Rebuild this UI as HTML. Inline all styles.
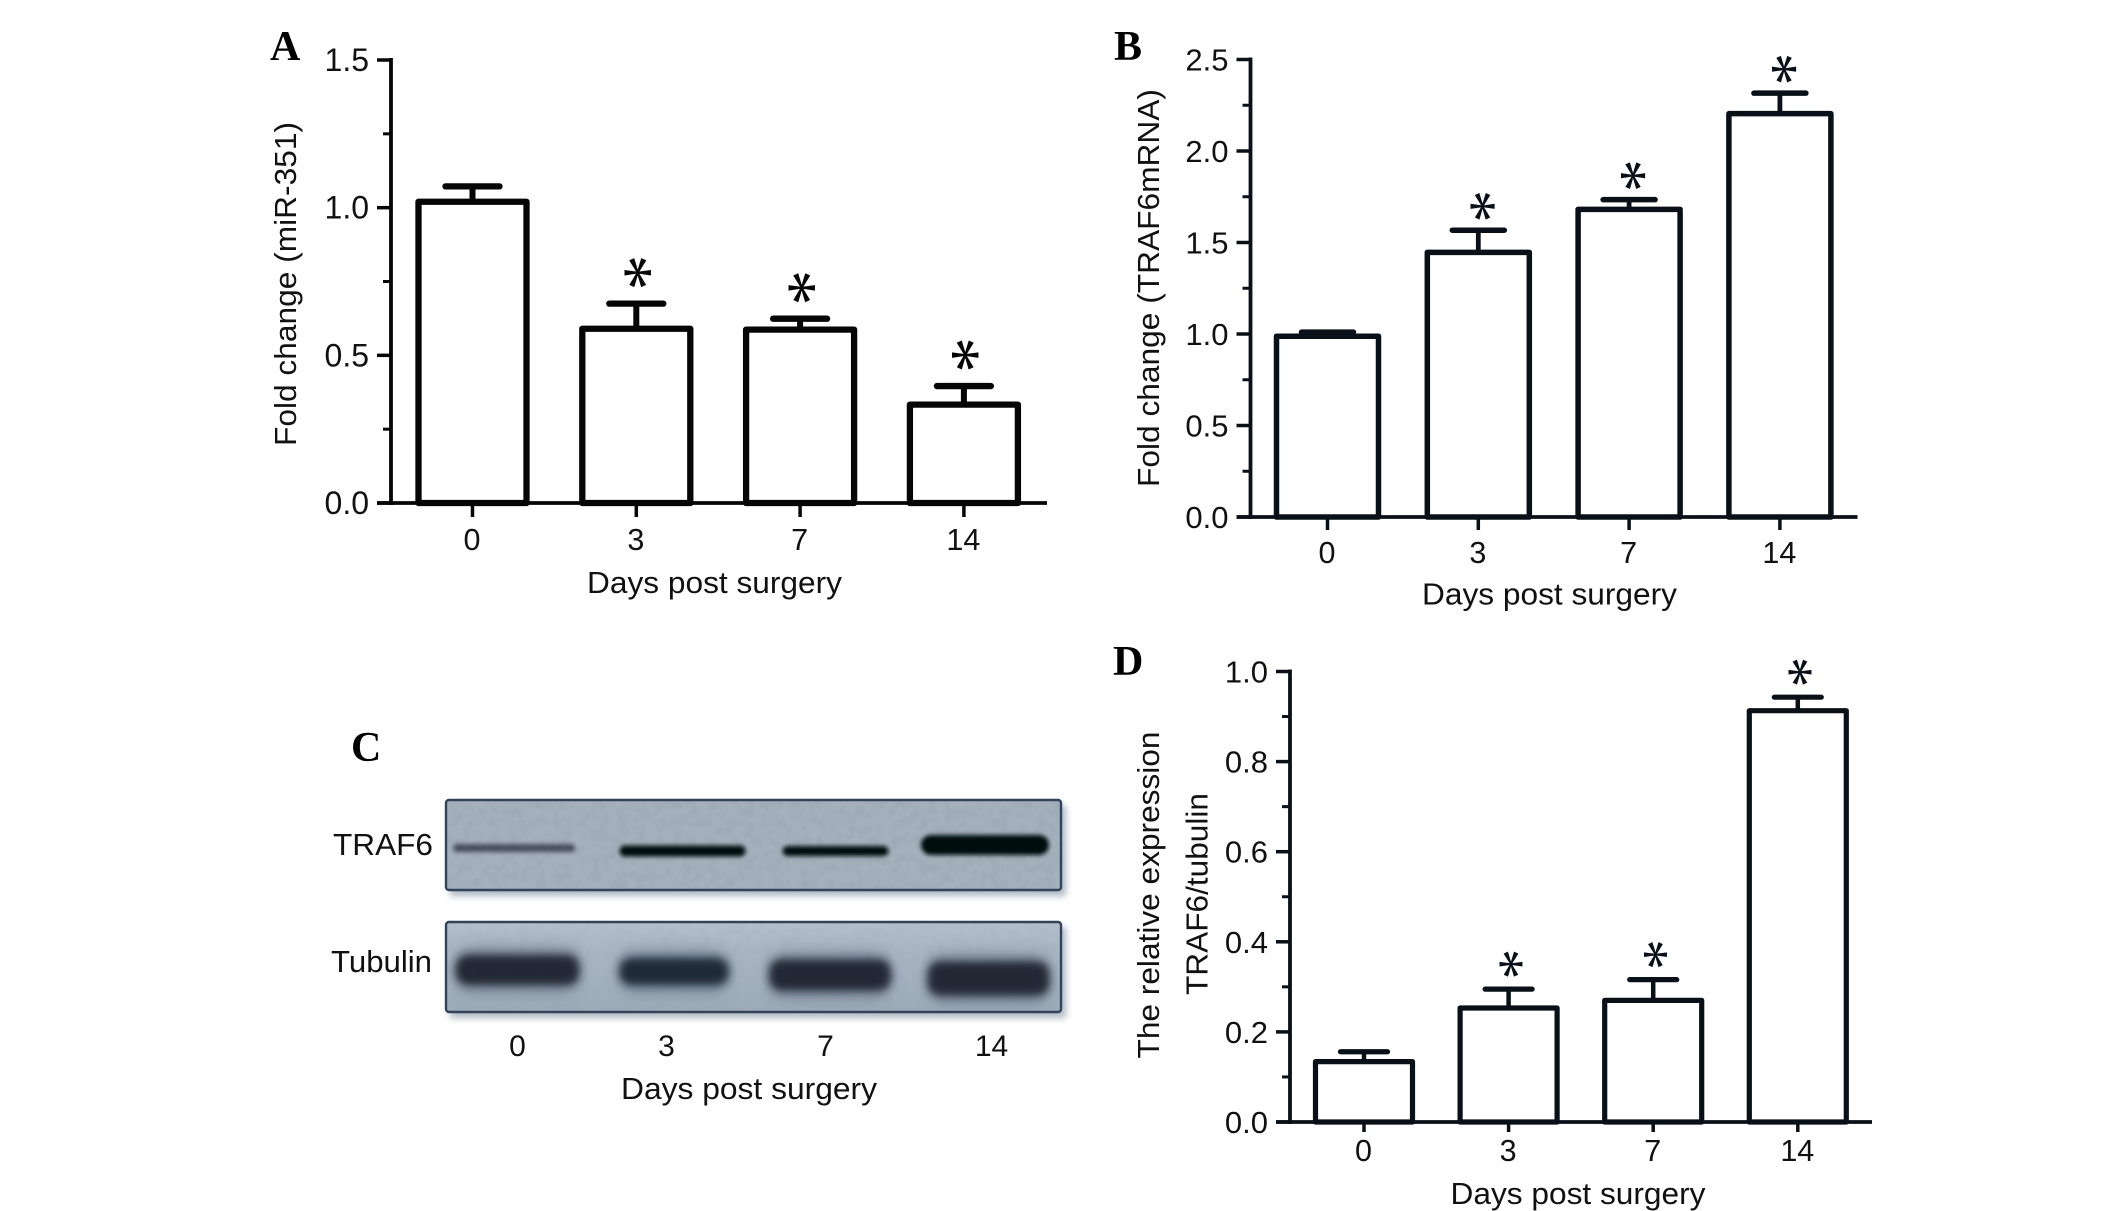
<!DOCTYPE html>
<html lang="en">
<head>
<meta charset="utf-8">
<title>miR-351 and TRAF6 expression after surgery</title>
<style>
html,body{margin:0;padding:0;background:#fff;width:2126px;height:1211px;overflow:hidden}
svg{display:block}
text{font-family:"Liberation Sans",sans-serif;fill:#111}
.panel-letter{font-family:"Liberation Serif",serif;font-weight:bold;font-size:42px;fill:#000}
.star{font-family:"Liberation Serif",serif;text-anchor:middle}
</style>
</head>
<body>
<svg id="figure" xmlns="http://www.w3.org/2000/svg" width="2126" height="1211" viewBox="0 0 2126 1211">
  <defs>
    <filter id="blur-shadow" x="-5%" y="-20%" width="110%" height="140%"><feGaussianBlur stdDeviation="3.5"/></filter>
    <filter id="blur-thin" x="-20%" y="-150%" width="140%" height="400%"><feGaussianBlur stdDeviation="2"/></filter>
    <filter id="blur-wide" x="-20%" y="-60%" width="140%" height="220%"><feGaussianBlur stdDeviation="4.2"/></filter>
    <filter id="blur-halo" x="-20%" y="-80%" width="140%" height="260%"><feGaussianBlur stdDeviation="8"/></filter>
    <filter id="grain" x="0" y="0" width="100%" height="100%">
      <feTurbulence type="fractalNoise" baseFrequency="0.11" numOctaves="2" seed="7"/>
      <feColorMatrix type="matrix" values="0 0 0 0 0.3  0 0 0 0 0.36  0 0 0 0 0.42  0 0 0 1.4 -0.5"/>
    </filter>
    <linearGradient id="tubulin-bg" x1="0" y1="0" x2="0" y2="1">
      <stop offset="0" stop-color="#b3bfca"/>
      <stop offset="0.35" stop-color="#a9b6c2"/>
      <stop offset="1" stop-color="#9dabb8"/>
    </linearGradient>
    <clipPath id="clip-traf6"><rect x="446" y="800" width="615" height="90"/></clipPath>
    <clipPath id="clip-tubulin"><rect x="446" y="922" width="615" height="90"/></clipPath>
  </defs>

  <text class="panel-letter" x="270" y="60">A</text>
  <text class="panel-letter" x="1114" y="60">B</text>
  <text class="panel-letter" x="351" y="761">C</text>
  <text class="panel-letter" x="1113" y="675">D</text>

  <g id="panel-c">
    <rect x="450" y="805" width="616" height="91" fill="#aeb9c3" filter="url(#blur-shadow)"/>
    <rect x="450" y="927" width="616" height="91" fill="#aeb9c3" filter="url(#blur-shadow)"/>
    <rect x="446" y="800" width="615" height="90" rx="3" fill="#a4b1bd"/>
    <rect x="446" y="922" width="615" height="90" rx="3" fill="url(#tubulin-bg)"/>
    <rect x="446" y="800" width="615" height="90" filter="url(#grain)" opacity="0.7"/>
    <rect x="446" y="922" width="615" height="90" filter="url(#grain)" opacity="0.25"/>
    <g id="traf6-bands" clip-path="url(#clip-traf6)"></g>
    <g id="tubulin-bands" clip-path="url(#clip-tubulin)"></g>
    <rect x="446" y="800" width="615" height="90" rx="3" fill="none" stroke="#33445a" stroke-width="2.4"/>
    <rect x="446" y="922" width="615" height="90" rx="3" fill="none" stroke="#33445a" stroke-width="2.4"/>
    <text x="333" y="855" font-size="31" textLength="100" lengthAdjust="spacingAndGlyphs">TRAF6</text>
    <text x="331" y="972" font-size="31" textLength="101" lengthAdjust="spacingAndGlyphs">Tubulin</text>
    <text x="517.5" y="1056" font-size="30" text-anchor="middle">0</text>
    <text x="666.5" y="1056" font-size="30" text-anchor="middle">3</text>
    <text x="825.5" y="1056" font-size="30" text-anchor="middle">7</text>
    <text x="991.5" y="1056" font-size="30" text-anchor="middle">14</text>
    <text x="621" y="1099" font-size="31" textLength="256" lengthAdjust="spacingAndGlyphs">Days post surgery</text>
  </g>
</svg>

<script>
// Shared category labels
const categories = ['0', '3', '7', '14'];

// Panel A values
const aValues = [1.02, 0.59, 0.587, 0.333];
const aErrorTops = [1.072, 0.675, 0.624, 0.396];
const aStars = [false, true, true, true];
const aMajorTicks = [0, 0.5, 1.0, 1.5];
const aMinorTicks = [0.25, 0.75, 1.25];
const aTickLabels = ['0.0', '0.5', '1.0', '1.5'];

// Panel B values
const bValues = [0.988, 1.446, 1.681, 2.204];
const bErrorTops = [1.01, 1.567, 1.734, 2.316];
const bStars = [false, true, true, true];
const bMajorTicks = [0, 0.5, 1.0, 1.5, 2.0, 2.5];
const bMinorTicks = [0.25, 0.75, 1.25, 1.75, 2.25];
const bTickLabels = ['0.0', '0.5', '1.0', '1.5', '2.0', '2.5'];

// Panel D values
const dValues = [0.134, 0.253, 0.27, 0.913];
const dErrorTops = [0.156, 0.295, 0.316, 0.943];
const dStars = [false, true, true, true];
const dMajorTicks = [0, 0.2, 0.4, 0.6, 0.8, 1.0];
const dMinorTicks = [0.1, 0.3, 0.5, 0.7, 0.9];
const dTickLabels = ['0.0', '0.2', '0.4', '0.6', '0.8', '1.0'];

const SVG_NS = 'http://www.w3.org/2000/svg';
const figure = document.getElementById('figure');

function make(tag, parent, attrs) {
  const el = document.createElementNS(SVG_NS, tag);
  for (const k in attrs) el.setAttribute(k, attrs[k]);
  parent.appendChild(el);
  return el;
}

function drawPanel(id, cfg) {
  const g = make('g', figure, {});
  
  
  const ink = cfg.ink;
  const yScale = v => cfg.y0 - (v / cfg.yMax) * (cfg.y0 - cfg.yTop);
  const xScale = i => cfg.x0 + i * cfg.step;

  categories.forEach((cat, i) => {
    const cx = xScale(i);
    const top = yScale(cfg.values[i]);
    const capY = yScale(cfg.errorTops[i]);

    const stem = make('line', g, {x1: cx, x2: cx, y1: top, y2: capY, stroke: ink, 'stroke-width': cfg.stem});
    
    

    const cap = make('line', g, {x1: cx - cfg.capW / 2, x2: cx + cfg.capW / 2, y1: capY, y2: capY, stroke: ink, 'stroke-width': cfg.stroke, 'stroke-linecap': 'round'});
    
    

    const bar = make('rect', g, {x: cx - cfg.barW / 2, y: top, width: cfg.barW, height: cfg.y0 - top, fill: '#fff', stroke: ink, 'stroke-width': cfg.stroke, 'stroke-linejoin': 'round'});
    
    

    const tick = make('line', g, {x1: cx, x2: cx, y1: cfg.y0, y2: cfg.y0 + cfg.tickLen, stroke: ink, 'stroke-width': 3.5});
    
    

    const label = make('text', g, {x: cx - 0.5, y: cfg.y0 + cfg.labelGap, 'font-size': 30.5, 'text-anchor': 'middle'});
    label.textContent = cat;
    
    

    if (cfg.stars[i]) {
      const sx = cx + cfg.starDx;
      const sy = capY - cfg.starGap;
      const star = make('text', g, {x: sx, y: sy + 0.47 * cfg.starSize, 'font-size': cfg.starSize, transform: 'rotate(90 ' + sx + ' ' + sy + ')', style: 'fill:' + ink});
      star.setAttribute('class', 'star');
      star.textContent = '*';
      
      
    }
  });

  const yAxis = make('line', g, {x1: cfg.axisX, x2: cfg.axisX, y1: yScale(cfg.yMax) - 2, y2: cfg.y0 + 2, stroke: ink, 'stroke-width': 3.8});
  
  

  const xAxis = make('line', g, {x1: cfg.axisX - 14, x2: cfg.xEnd, y1: cfg.y0, y2: cfg.y0, stroke: ink, 'stroke-width': 3.8});
  
  

  cfg.major.forEach((v, i) => {
    const t = make('line', g, {x1: cfg.axisX - 14, x2: cfg.axisX, y1: yScale(v), y2: yScale(v), stroke: ink, 'stroke-width': 3.5});
    
    

    const l = make('text', g, {x: cfg.axisX - 22, y: yScale(v) + 11, 'font-size': cfg.tickFont, 'text-anchor': 'end'});
    l.textContent = cfg.tickLabels[i];
    
    
  });

  cfg.minor.forEach(v => {
    const t = make('line', g, {x1: cfg.axisX - 8, x2: cfg.axisX, y1: yScale(v), y2: yScale(v), stroke: ink, 'stroke-width': 3});
    
    
  });

  const xTitle = make('text', g, {x: cfg.xTitleX, y: cfg.xTitleY, 'font-size': 31, textLength: 255, lengthAdjust: 'spacingAndGlyphs'});
  xTitle.textContent = 'Days post surgery';
  
  

  cfg.yTitles.forEach((t, i) => {
    const yt = make('text', g, {'font-size': 31, 'text-anchor': 'middle', textLength: t.len, lengthAdjust: 'spacingAndGlyphs', transform: 'translate(' + t.x + ' ' + t.cy + ') rotate(-90)'});
    yt.textContent = t.text;
    
    
  });
}

drawPanel('a', {
  values: aValues, errorTops: aErrorTops, stars: aStars, major: aMajorTicks, minor: aMinorTicks, tickLabels: aTickLabels,
  ink: '#060606', yMax: 1.5, y0: 503, yTop: 60, axisX: 391, xEnd: 1047, x0: 472.5, step: 163.8,
  barW: 108, capW: 54, stroke: 6.3, stem: 6, starDx: 1, starGap: 31, starSize: 72,
  tickLen: 14, labelGap: 47, tickFont: 32,
  xTitleX: 587, xTitleY: 593,
  yTitles: [{text: 'Fold change (miR-351)', x: 296, cy: 284, len: 324}]
});
drawPanel('b', {
  values: bValues, errorTops: bErrorTops, stars: bStars, major: bMajorTicks, minor: bMinorTicks, tickLabels: bTickLabels,
  ink: '#0a1018', yMax: 2.5, y0: 517, yTop: 59.5, axisX: 1250.5, xEnd: 1857.5, x0: 1327.5, step: 150.8,
  barW: 102, capW: 52, stroke: 5.5, stem: 4.8, starDx: 4, starGap: 24, starSize: 66,
  tickLen: 13, labelGap: 46, tickFont: 31,
  xTitleX: 1422, xTitleY: 604.5,
  yTitles: [{text: 'Fold change (TRAF6mRNA)', x: 1159, cy: 288, len: 398}]
});
drawPanel('d', {
  values: dValues, errorTops: dErrorTops, stars: dStars, major: dMajorTicks, minor: dMinorTicks, tickLabels: dTickLabels,
  ink: '#0a1018', yMax: 1.0, y0: 1122, yTop: 671.5, axisX: 1290, xEnd: 1872, x0: 1364, step: 144.6,
  barW: 97, capW: 47, stroke: 5.2, stem: 4.5, starDx: 2, starGap: 25, starSize: 62,
  tickLen: 10, labelGap: 39, tickFont: 31,
  xTitleX: 1450.5, xTitleY: 1204,
  yTitles: [
    {text: 'The relative expression', x: 1159, cy: 895, len: 327},
    {text: 'TRAF6/tubulin', x: 1207.5, cy: 894, len: 202}
  ]
});

// Western blot band intensities by lane
const traf6Intensity = [0.55, 1, 1, 1];
const traf6Thickness = [8, 11, 10, 20];
const tubulinIntensity = [0.95, 0.93, 0.95, 0.95];
const tubulinThickness = [30, 27, 31, 34];

function drawBands(parentId, intensity, thickness, laneCenters, laneWidths, rows, filterId, color, prefix, halo) {
  const parent = document.getElementById(parentId);
  intensity.forEach((a, i) => {
    if (halo) {
      const glow = make('rect', parent, {
        x: laneCenters[i] - laneWidths[i] / 2 + 3, y: rows[i] - thickness[i] / 2 - 6,
        width: laneWidths[i] - 6, height: thickness[i] + 12, rx: 10,
        fill: '#4a5a6c', 'fill-opacity': 0.55, filter: 'url(#blur-halo)'
      });
      
      
    }
    const band = make('rect', parent, {
      x: laneCenters[i] - laneWidths[i] / 2, y: rows[i] - thickness[i] / 2,
      width: laneWidths[i], height: thickness[i], rx: Math.min(12, thickness[i] / 2),
      fill: color, 'fill-opacity': a, filter: 'url(#' + filterId + ')'
    });
    
    
  });
}
drawBands('traf6-bands', traf6Intensity, traf6Thickness, [514, 682.5, 835.5, 985], [122, 126, 106, 128], [848, 851, 851, 845], 'blur-thin', '#06080c', 'traf6', false);
drawBands('tubulin-bands', tubulinIntensity, tubulinThickness, [517.5, 674, 830, 988.5], [124, 110, 122, 122], [970, 971.5, 975, 978.5], 'blur-wide', '#1a2230', 'tubulin', true);
</script>
</body>
</html>
